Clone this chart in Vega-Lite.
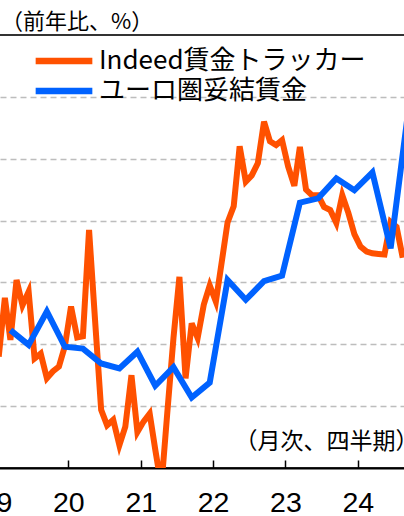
{
  "$schema": "https://vega.github.io/schema/vega-lite/v6.json",
  "width": 424,
  "height": 433,
  "autosize": {"type": "none"},
  "padding": {"left": -10, "top": 35, "right": -10, "bottom": 48},
  "background": "white",
  "config": {"view": {"stroke": "#333333", "strokeWidth": 2}},
  "title": {"text": "（前年比、%）", "anchor": "start", "frame": "group", "font": "Noto Sans CJK JP", "fontSize": 22, "fontWeight": "normal", "color": "#000000", "offset": 8, "baseline": "bottom", "dx": 11, "dy": 30},
  "datasets": {
    "series": [
      {"date": "2019-01-15", "s": "Indeed賃金トラッカー", "v": 1.8},
      {"date": "2019-02-15", "s": "Indeed賃金トラッカー", "v": 2.75},
      {"date": "2019-03-15", "s": "Indeed賃金トラッカー", "v": 2.07},
      {"date": "2019-04-15", "s": "Indeed賃金トラッカー", "v": 3.04},
      {"date": "2019-05-15", "s": "Indeed賃金トラッカー", "v": 2.63},
      {"date": "2019-06-15", "s": "Indeed賃金トラッカー", "v": 2.85},
      {"date": "2019-07-15", "s": "Indeed賃金トラッカー", "v": 1.77},
      {"date": "2019-08-15", "s": "Indeed賃金トラッカー", "v": 1.85},
      {"date": "2019-09-15", "s": "Indeed賃金トラッカー", "v": 1.45},
      {"date": "2019-10-15", "s": "Indeed賃金トラッカー", "v": 1.56},
      {"date": "2019-11-15", "s": "Indeed賃金トラッカー", "v": 1.64},
      {"date": "2019-12-15", "s": "Indeed賃金トラッカー", "v": 1.97},
      {"date": "2020-01-15", "s": "Indeed賃金トラッカー", "v": 2.61},
      {"date": "2020-02-15", "s": "Indeed賃金トラッカー", "v": 2.11},
      {"date": "2020-03-15", "s": "Indeed賃金トラッカー", "v": 2.13},
      {"date": "2020-04-15", "s": "Indeed賃金トラッカー", "v": 3.85},
      {"date": "2020-05-15", "s": "Indeed賃金トラッカー", "v": 2.4},
      {"date": "2020-06-15", "s": "Indeed賃金トラッカー", "v": 0.94},
      {"date": "2020-07-15", "s": "Indeed賃金トラッカー", "v": 0.69},
      {"date": "2020-08-15", "s": "Indeed賃金トラッカー", "v": 0.78},
      {"date": "2020-09-15", "s": "Indeed賃金トラッカー", "v": 0.37},
      {"date": "2020-10-15", "s": "Indeed賃金トラッカー", "v": 0.67},
      {"date": "2020-11-15", "s": "Indeed賃金トラッカー", "v": 1.5},
      {"date": "2020-12-15", "s": "Indeed賃金トラッカー", "v": 0.58},
      {"date": "2021-01-15", "s": "Indeed賃金トラッカー", "v": 0.75},
      {"date": "2021-02-15", "s": "Indeed賃金トラッカー", "v": 0.88},
      {"date": "2021-03-15", "s": "Indeed賃金トラッカー", "v": 0.3},
      {"date": "2021-04-15", "s": "Indeed賃金トラッカー", "v": -0.3},
      {"date": "2021-05-15", "s": "Indeed賃金トラッカー", "v": 0.9},
      {"date": "2021-06-15", "s": "Indeed賃金トラッカー", "v": 2.1},
      {"date": "2021-07-15", "s": "Indeed賃金トラッカー", "v": 3.09},
      {"date": "2021-08-15", "s": "Indeed賃金トラッカー", "v": 1.45},
      {"date": "2021-09-15", "s": "Indeed賃金トラッカー", "v": 2.34},
      {"date": "2021-10-15", "s": "Indeed賃金トラッカー", "v": 2.1},
      {"date": "2021-11-15", "s": "Indeed賃金トラッカー", "v": 2.64},
      {"date": "2021-12-15", "s": "Indeed賃金トラッカー", "v": 2.95},
      {"date": "2022-01-15", "s": "Indeed賃金トラッカー", "v": 2.69},
      {"date": "2022-02-15", "s": "Indeed賃金トラッカー", "v": 3.36},
      {"date": "2022-03-15", "s": "Indeed賃金トラッカー", "v": 3.97},
      {"date": "2022-04-15", "s": "Indeed賃金トラッカー", "v": 4.23},
      {"date": "2022-05-15", "s": "Indeed賃金トラッカー", "v": 5.2},
      {"date": "2022-06-15", "s": "Indeed賃金トラッカー", "v": 4.63},
      {"date": "2022-07-15", "s": "Indeed賃金トラッカー", "v": 4.73},
      {"date": "2022-08-15", "s": "Indeed賃金トラッカー", "v": 4.93},
      {"date": "2022-09-15", "s": "Indeed賃金トラッカー", "v": 5.6},
      {"date": "2022-10-15", "s": "Indeed賃金トラッカー", "v": 5.28},
      {"date": "2022-11-15", "s": "Indeed賃金トラッカー", "v": 5.22},
      {"date": "2022-12-15", "s": "Indeed賃金トラッカー", "v": 5.3},
      {"date": "2023-01-15", "s": "Indeed賃金トラッカー", "v": 4.87},
      {"date": "2023-02-15", "s": "Indeed賃金トラッカー", "v": 4.56},
      {"date": "2023-03-15", "s": "Indeed賃金トラッカー", "v": 5.19},
      {"date": "2023-04-15", "s": "Indeed賃金トラッカー", "v": 4.5},
      {"date": "2023-05-15", "s": "Indeed賃金トラッカー", "v": 4.41},
      {"date": "2023-06-15", "s": "Indeed賃金トラッカー", "v": 4.41},
      {"date": "2023-07-15", "s": "Indeed賃金トラッカー", "v": 4.22},
      {"date": "2023-08-15", "s": "Indeed賃金トラッカー", "v": 4.17},
      {"date": "2023-09-15", "s": "Indeed賃金トラッカー", "v": 3.96},
      {"date": "2023-10-15", "s": "Indeed賃金トラッカー", "v": 4.41},
      {"date": "2023-11-15", "s": "Indeed賃金トラッカー", "v": 4.12},
      {"date": "2023-12-15", "s": "Indeed賃金トラッカー", "v": 3.78},
      {"date": "2024-01-15", "s": "Indeed賃金トラッカー", "v": 3.58},
      {"date": "2024-02-15", "s": "Indeed賃金トラッカー", "v": 3.5},
      {"date": "2024-03-15", "s": "Indeed賃金トラッカー", "v": 3.47},
      {"date": "2024-04-15", "s": "Indeed賃金トラッカー", "v": 3.46},
      {"date": "2024-05-15", "s": "Indeed賃金トラッカー", "v": 3.45},
      {"date": "2024-06-15", "s": "Indeed賃金トラッカー", "v": 3.98},
      {"date": "2024-07-15", "s": "Indeed賃金トラッカー", "v": 3.9},
      {"date": "2024-08-15", "s": "Indeed賃金トラッカー", "v": 3.4},
      {"date": "2019-03-15", "s": "ユーロ圏妥結賃金", "v": 2.23},
      {"date": "2019-06-15", "s": "ユーロ圏妥結賃金", "v": 1.99},
      {"date": "2019-09-15", "s": "ユーロ圏妥結賃金", "v": 2.53},
      {"date": "2019-12-15", "s": "ユーロ圏妥結賃金", "v": 1.96},
      {"date": "2020-03-15", "s": "ユーロ圏妥結賃金", "v": 1.93},
      {"date": "2020-06-15", "s": "ユーロ圏妥結賃金", "v": 1.69},
      {"date": "2020-09-15", "s": "ユーロ圏妥結賃金", "v": 1.61},
      {"date": "2020-12-15", "s": "ユーロ圏妥結賃金", "v": 1.88},
      {"date": "2021-03-15", "s": "ユーロ圏妥結賃金", "v": 1.33},
      {"date": "2021-06-15", "s": "ユーロ圏妥結賃金", "v": 1.63},
      {"date": "2021-09-15", "s": "ユーロ圏妥結賃金", "v": 1.14},
      {"date": "2021-12-15", "s": "ユーロ圏妥結賃金", "v": 1.38},
      {"date": "2022-03-15", "s": "ユーロ圏妥結賃金", "v": 3.04},
      {"date": "2022-06-15", "s": "ユーロ圏妥結賃金", "v": 2.72},
      {"date": "2022-09-15", "s": "ユーロ圏妥結賃金", "v": 3.02},
      {"date": "2022-12-15", "s": "ユーロ圏妥結賃金", "v": 3.11},
      {"date": "2023-03-15", "s": "ユーロ圏妥結賃金", "v": 4.29},
      {"date": "2023-06-15", "s": "ユーロ圏妥結賃金", "v": 4.36},
      {"date": "2023-09-15", "s": "ユーロ圏妥結賃金", "v": 4.68},
      {"date": "2023-12-15", "s": "ユーロ圏妥結賃金", "v": 4.49},
      {"date": "2024-03-15", "s": "ユーロ圏妥結賃金", "v": 4.78},
      {"date": "2024-06-15", "s": "ユーロ圏妥結賃金", "v": 3.55},
      {"date": "2024-09-15", "s": "ユーロ圏妥結賃金", "v": 5.85}
    ]
  },
  "layer": [
    {
      "data": {"name": "series"},
      "mark": {"type": "line", "strokeWidth": 6, "clip": true, "strokeJoin": "miter"},
      "encoding": {
        "x": {
          "field": "date", "type": "temporal",
          "scale": {"type": "utc", "domain": [{"year": 2018, "month": 12, "date": 2, "utc": true}, {"year": 2024, "month": 10, "date": 11, "utc": true}]},
          "axis": {
            "title": "（月次、四半期）",
            "titleFont": "Noto Sans CJK JP", "titleFontSize": 23, "titleFontWeight": "normal", "titleColor": "#000000",
            "titleX": 428, "titleY": -27, "titleAlign": "right", "titleBaseline": "middle", "titleAnchor": null,
            "values": [
              {"year": 2019, "month": 1, "date": 1, "utc": true},
              {"year": 2020, "month": 1, "date": 1, "utc": true},
              {"year": 2021, "month": 1, "date": 1, "utc": true},
              {"year": 2022, "month": 1, "date": 1, "utc": true},
              {"year": 2023, "month": 1, "date": 1, "utc": true},
              {"year": 2024, "month": 1, "date": 1, "utc": true}
            ],
            "format": "%y",
            "labelFont": "Liberation Sans", "labelFontSize": 28.5, "labelColor": "#000000",
            "labelBaseline": "alphabetic", "labelPadding": 51, "labelDx": 2.5,
            "labelBound": false, "labelOverlap": false, "labelFlush": false,
            "tickSize": -8, "tickColor": "#000000", "tickWidth": 1.5,
            "domainColor": "#000000", "domainWidth": 2, "grid": false
          }
        },
        "y": {
          "field": "v", "type": "quantitative",
          "scale": {"domain": [0, 7], "nice": false, "zero": false},
          "axis": {
            "values": [1, 2, 3, 4, 5, 6],
            "labels": false, "ticks": false, "domain": false, "title": null,
            "grid": true, "gridColor": "#BDBDBD", "gridDash": [6, 4], "gridWidth": 1.5
          }
        },
        "color": {
          "field": "s", "type": "nominal",
          "scale": {"domain": ["Indeed賃金トラッカー", "ユーロ圏妥結賃金"], "range": ["#FF5100", "#0062FF"]},
          "legend": {
            "title": null, "orient": "none", "legendX": 59, "legendY": 11,
            "symbolType": "M-2.5,0H2.5", "symbolSize": 514, "symbolStrokeWidth": 6.5,
            "labelFont": "Noto Sans CJK JP", "labelFontSize": 26, "labelColor": "#000000",
            "labelOffset": 20, "rowPadding": 2, "padding": 0, "labelLimit": 400
          }
        }
      }
    },
    {
      "data": {"values": [{"top": 7}]},
      "mark": {"type": "rule", "stroke": "#333333", "strokeWidth": 2},
      "encoding": {
        "y": {"field": "top", "type": "quantitative"}
      }
    }
  ]
}
